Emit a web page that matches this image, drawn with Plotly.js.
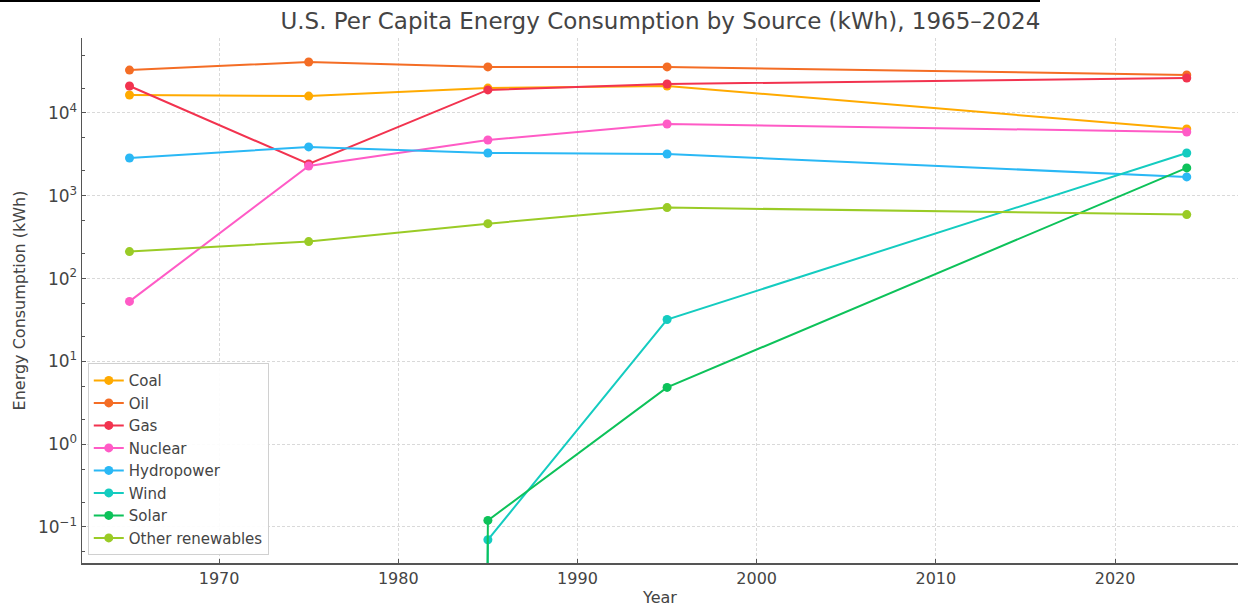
<!DOCTYPE html>
<html>
<head>
<meta charset="utf-8">
<script src="https://cdn.plot.ly/plotly-3.0.1.min.js"></script>
<style>html,body{margin:0;padding:0;background:#fff;}#chart{width:1239px;height:609px;}</style>
</head>
<body>
<div id="chart"></div>
<script>
const years = [1965, 1975, 1985, 1995, 2024];
const seriesNames = ["Coal", "Oil", "Gas", "Nuclear", "Hydropower", "Wind", "Solar", "Other renewables"];
const coal = [16500, 16000, 20000, 21200, 6400];
const oil = [33000, 41300, 36000, 36000, 28800];
const gas = [21200, 2420, 19000, 22400, 26500];
const nuclear = [53, 2290, 4720, 7360, 5900];
const hydropower = [2860, 3890, 3290, 3200, 1690];
const wind = [0, 0, 0.07, 32, 3290];
const solar = [0, 0, 0.12, 4.85, 2170];
const otherRenewables = [212, 280, 461, 720, 593];
const yTickVals = [0.1, 1, 10, 100, 1000, 10000];
const yTickText = ["10<sup>−1</sup>", "10<sup>0</sup>", "10<sup>1</sup>", "10<sup>2</sup>", "10<sup>3</sup>", "10<sup>4</sup>"];
const xTickVals = [1970, 1980, 1990, 2000, 2010, 2020];

const colors = ["#FFAA00", "#F46D25", "#F2334F", "#FF5BC6", "#2AB8F5", "#14CCC0", "#0DC25A", "#9ACB26"];
const allValues = [coal, oil, gas, nuclear, hydropower, wind, solar, otherRenewables];

// like matplotlib's log-scale clipping: non-positive values map to a vanishingly small number
const clip = v => (v > 0 ? v : 1e-300);

const traces = seriesNames.map((name, i) => ({
  x: years,
  y: allValues[i].map(clip),
  name: name,
  type: "scatter",
  mode: "lines+markers",
  legendgroup: "g" + i,
  line: {color: colors[i], width: 2},
  marker: {color: colors[i], size: 9},
  cliponaxis: true
}));

const layout = {
  width: 1239, height: 609,
  margin: {l: 82, r: 1, t: 38, b: 46},
  paper_bgcolor: "#fff", plot_bgcolor: "#fff",
  font: {family: "DejaVu Sans, sans-serif", color: "#444", size: 15},
  title: {text: "U.S. Per Capita Energy Consumption by Source (kWh), 1965–2024", x: 0.533, xanchor: "center", y: 0.965, yanchor: "middle", font: {size: 23, color: "#444"}},
  xaxis: {
    range: [1962.35, 2026.86],
    tickvals: xTickVals,
    ticks: "inside", ticklen: 4, tickcolor: "#555", tickwidth: 1,
    showline: true, linecolor: "#555", linewidth: 1.5, mirror: false,
    showgrid: true, gridcolor: "#d9d9d9", griddash: "3px,2px", gridwidth: 1,
    zeroline: false,
    tickfont: {size: 16, color: "#444"},
    title: {text: "Year", font: {size: 16, color: "#444"}, standoff: 5}
  },
  yaxis: {
    type: "log",
    range: [Math.log10(0.0367), Math.log10(80500)],
    tickvals: yTickVals, ticktext: yTickText,
    ticks: "inside", ticklen: 4, tickcolor: "#555", tickwidth: 1,
    minor: {ticks: "inside", ticklen: 2.5, tickcolor: "#555", showgrid: false},
    showline: true, linecolor: "#555", linewidth: 1.5,
    showgrid: true, gridcolor: "#d9d9d9", griddash: "3px,2px", gridwidth: 1,
    zeroline: false,
    tickfont: {size: 17, color: "#444"},
    title: {text: "Energy Consumption (kWh)", font: {size: 16, color: "#444"}, standoff: 8}
  },
  legend: {
    x: 0.005, y: 0.015, xanchor: "left", yanchor: "bottom",
    bgcolor: "rgba(255,255,255,0.9)", bordercolor: "#d0d0d0", borderwidth: 1,
    font: {size: 15, color: "#444"},
    tracegroupgap: 0,
    itemwidth: 30
  },
  shapes: [{
    type: "line", xref: "paper", yref: "paper",
    x0: -82 / 1156, x1: (1040 - 82) / 1156,
    y0: (525 + 37) / 525, y1: (525 + 37) / 525,
    line: {color: "#000", width: 2}
  }],
  showlegend: true
};

Plotly.newPlot("chart", traces, layout, {displayModeBar: false, staticPlot: true});
</script>
</body>
</html>
